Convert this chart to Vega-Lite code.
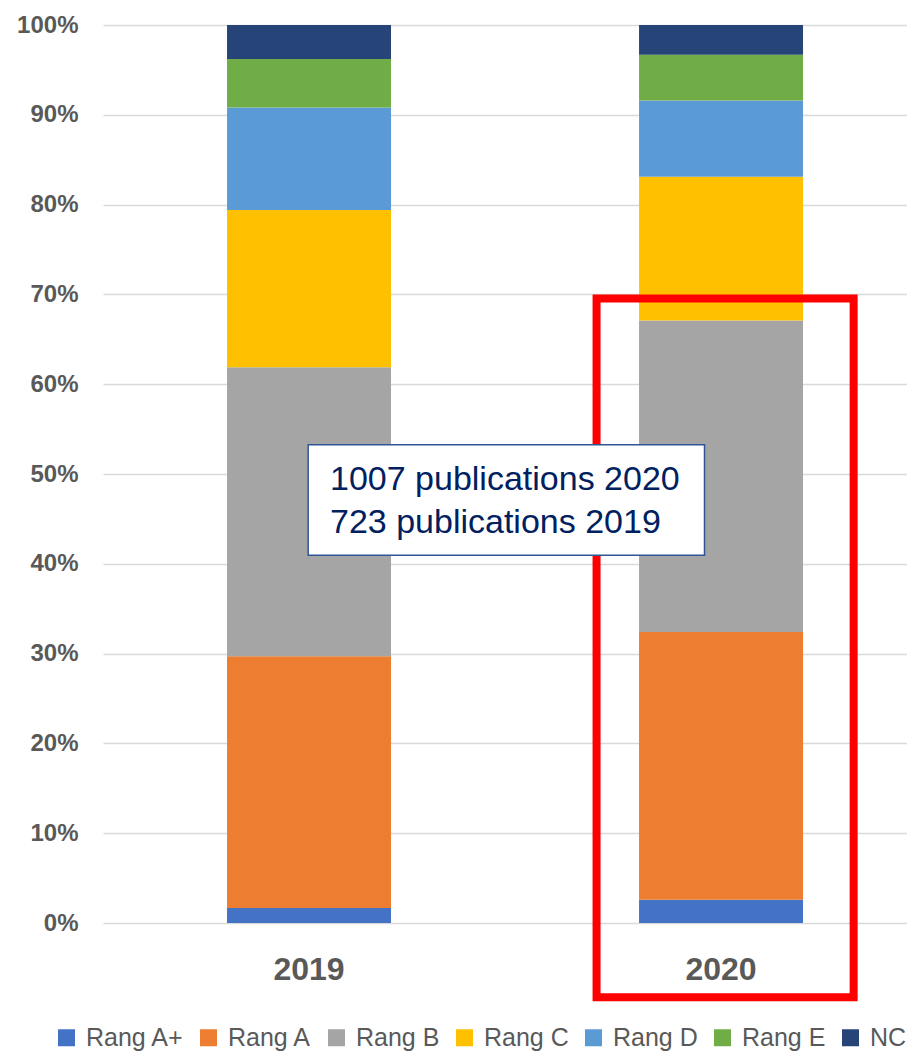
{
  "$schema": "https://vega.github.io/schema/vega-lite/v6.json",
  "autosize": "none",
  "width": 804,
  "height": 898,
  "padding": {"left": 103, "top": 25, "right": 0, "bottom": 128},
  "background": "white",
  "config": {
    "view": {"stroke": null},
    "font": "Liberation Sans"
  },
  "layer": [
    {
      "data": {
        "values": [
          {"year": "2019", "rang": "Rang A+", "ord": 1, "share": 1.67},
          {"year": "2019", "rang": "Rang A", "ord": 2, "share": 28.03},
          {"year": "2019", "rang": "Rang B", "ord": 3, "share": 32.2},
          {"year": "2019", "rang": "Rang C", "ord": 4, "share": 17.5},
          {"year": "2019", "rang": "Rang D", "ord": 5, "share": 11.4},
          {"year": "2019", "rang": "Rang E", "ord": 6, "share": 5.4},
          {"year": "2019", "rang": "NC", "ord": 7, "share": 3.8},
          {"year": "2020", "rang": "Rang A+", "ord": 1, "share": 2.6},
          {"year": "2020", "rang": "Rang A", "ord": 2, "share": 29.8},
          {"year": "2020", "rang": "Rang B", "ord": 3, "share": 34.7},
          {"year": "2020", "rang": "Rang C", "ord": 4, "share": 16.0},
          {"year": "2020", "rang": "Rang D", "ord": 5, "share": 8.5},
          {"year": "2020", "rang": "Rang E", "ord": 6, "share": 5.1},
          {"year": "2020", "rang": "NC", "ord": 7, "share": 3.3}
        ]
      },
      "mark": {"type": "bar"},
      "encoding": {
        "x": {
          "field": "year",
          "type": "nominal",
          "scale": {"paddingInner": 0.602, "paddingOuter": 0.2767, "align": 0.544, "round": false},
          "axis": {
            "title": null,
            "labelAngle": 0,
            "labelFontSize": 32,
            "labelFontWeight": "bold",
            "labelColor": "#595959",
            "labelPadding": 31,
            "ticks": false,
            "domain": false
          }
        },
        "y": {
          "field": "share",
          "type": "quantitative",
          "stack": "zero",
          "scale": {"domain": [0, 100], "nice": false},
          "axis": {
            "title": null,
            "values": [0, 10, 20, 30, 40, 50, 60, 70, 80, 90, 100],
            "labelExpr": "datum.value + '%'",
            "labelFontSize": 24,
            "labelFontWeight": "bold",
            "labelColor": "#595959",
            "labelPadding": 25,
            "ticks": false,
            "domain": false,
            "gridColor": "#D9D9D9",
            "gridWidth": 1.5
          }
        },
        "color": {
          "field": "rang",
          "type": "nominal",
          "scale": {
            "domain": ["Rang A+", "Rang A", "Rang B", "Rang C", "Rang D", "Rang E", "NC"],
            "range": ["#4472C4", "#ED7D31", "#A5A5A5", "#FFC000", "#5B9BD5", "#70AD47", "#264478"]
          },
          "legend": {
            "title": null,
            "orient": "none",
            "direction": "horizontal",
            "legendX": -49,
            "legendY": 1000,
            "symbolType": "square",
            "symbolSize": 289,
            "symbolStrokeWidth": 0,
            "labelFontSize": 25,
            "labelColor": "#595959",
            "labelOffset": 7,
            "columnPadding": 12
          }
        },
        "order": {"field": "ord", "type": "quantitative", "sort": "ascending"}
      }
    },
    {
      "data": {"values": [{"x": 2019.698, "x2": 2020.322, "y": -8.26, "y2": 69.55}]},
      "mark": {"type": "rect", "fill": null, "fillOpacity": 0, "stroke": "#FF0000", "strokeWidth": 8},
      "encoding": {
        "x": {"field": "x", "type": "quantitative", "scale": {"domain": [2018.5, 2020.4515], "nice": false, "zero": false}, "axis": null},
        "x2": {"field": "x2"},
        "y": {"field": "y", "type": "quantitative"},
        "y2": {"field": "y2"}
      }
    },
    {
      "data": {"values": [{"x": 2018.998, "x2": 2019.96, "y": 40.94, "y2": 53.26}]},
      "mark": {"type": "rect", "fill": "white", "stroke": "#2F5597", "strokeWidth": 1.5},
      "encoding": {
        "x": {"field": "x", "type": "quantitative", "scale": {"domain": [2018.5, 2020.4515], "nice": false, "zero": false}, "axis": null},
        "x2": {"field": "x2"},
        "y": {"field": "y", "type": "quantitative"},
        "y2": {"field": "y2"}
      }
    },
    {
      "data": {
        "values": [
          {"x": 2019.051, "y": 48.25, "label": "1007 publications 2020"},
          {"x": 2019.051, "y": 43.43, "label": "723 publications 2019"}
        ]
      },
      "mark": {"type": "text", "align": "left", "baseline": "alphabetic", "fontSize": 34, "color": "#002060"},
      "encoding": {
        "x": {"field": "x", "type": "quantitative", "scale": {"domain": [2018.5, 2020.4515], "nice": false, "zero": false}, "axis": null},
        "y": {"field": "y", "type": "quantitative"},
        "text": {"field": "label"}
      }
    }
  ],
  "resolve": {"scale": {"x": "independent"}, "axis": {"x": "independent"}}
}
